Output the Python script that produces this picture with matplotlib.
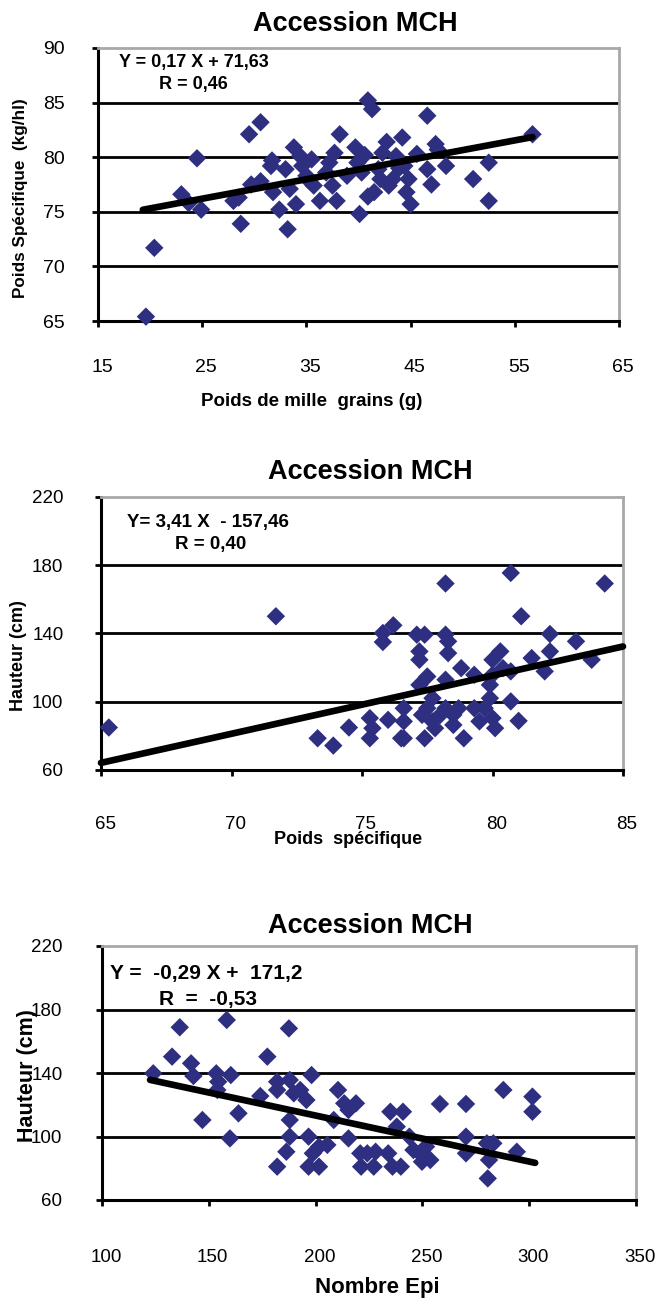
import numpy as np
import matplotlib
matplotlib.use("Agg")
import matplotlib.pyplot as plt
from matplotlib.transforms import ScaledTranslation

plt.rcParams['font.family'] = ['Liberation Sans', 'DejaVu Sans']

# ---------------- data ----------------
# Panel 1: Poids de mille grains (g) vs Poids spécifique (kg/hl)
pmg = [19.6, 20.4, 23.0, 23.7, 24.5, 24.9, 28.0, 28.5, 28.7, 29.5, 30.6, 29.7, 30.6,
       31.7, 31.8, 32.4, 33.2, 33.0, 33.8, 34.0, 34.4, 34.6, 35.5, 35.0, 35.7, 36.3,
       36.9, 37.7, 37.5, 37.9, 38.2, 38.9, 39.7, 39.9, 40.1, 40.3, 40.9, 41.3, 40.9,
       41.5, 42.1, 42.3, 42.7, 42.9, 43.6, 44.2, 44.4, 44.6, 45.0, 44.8, 45.6, 46.6,
       46.6, 47.0, 47.4, 47.6, 48.4, 51.0, 52.5, 52.5, 56.7,
       33.4, 31.6, 35.2, 43.3, 43.9, 37.2, 40.6, 41.9]
ps1 = [65.4, 71.7, 76.6, 75.8, 79.9, 75.2, 76.0, 76.3, 73.9, 82.1, 83.2, 77.5, 77.8,
       79.7, 76.8, 75.2, 73.4, 78.9, 80.9, 75.7, 80.1, 79.2, 79.8, 78.3, 77.4, 76.0,
       78.6, 80.4, 77.4, 76.0, 82.1, 78.3, 80.9, 79.5, 74.8, 78.6, 85.2, 84.4, 76.4,
       76.8, 78.0, 80.4, 81.4, 77.4, 80.1, 81.8, 79.2, 76.8, 75.7, 78.0, 80.3, 83.8,
       78.9, 77.5, 81.2, 80.7, 79.2, 78.0, 79.5, 76.0, 82.1,
       77.1, 79.2, 77.9, 78.0, 79.0, 79.5, 80.2, 78.9]
slope1, intercept1 = 0.178, 71.75
eq1 = ["Y = 0,17 X + 71,63", "R = 0,46"]

# Panel 2: Poids spécifique vs Hauteur (cm)
ps2 = [65.3, 71.7, 73.3, 73.9, 74.5, 75.3, 75.4, 75.3, 75.8, 75.8, 76.2, 76.0, 76.5,
       76.6, 76.6, 76.6, 77.1, 77.4, 77.2, 77.2, 77.2, 77.5, 77.4, 77.3, 77.5, 77.7,
       77.7, 77.8, 78.0, 78.2, 78.2, 78.3, 78.3, 78.2, 78.2, 78.5, 78.5, 78.8, 78.9,
       78.7, 79.3, 79.3, 79.5, 79.7, 79.9, 79.9, 80.0, 80.0, 80.1, 80.0, 80.3, 80.4,
       80.7, 80.7, 80.7, 81.1, 81.0, 81.5, 82.0, 82.2, 82.2, 83.2, 83.8, 84.3]
haut2 = [84.9, 150.1, 78.6, 74.3, 84.9, 90.4, 84.5, 78.6, 135.0, 140.3, 144.8, 89.4,
         78.6, 78.6, 88.5, 96.2, 139.3, 139.3, 129.5, 124.6, 109.9, 114.8, 78.6, 92.3,
         96.2, 102.1, 88.5, 84.5, 92.3, 169.3, 139.3, 135.4, 128.5, 112.9, 96.2, 86.4,
         92.3, 119.7, 78.6, 96.2, 115.8, 96.2, 88.5, 96.2, 102.1, 109.9, 115.8, 124.6,
         84.5, 90.4, 129.5, 119.7, 175.5, 100.2, 117.8, 150.1, 88.8, 125.6, 117.8,
         139.7, 129.5, 135.4, 124.6, 169.3]
slope2, intercept2 = 3.41, -157.46
eq2 = ["Y= 3,41 X  - 157,46", "R = 0,40"]

# Panel 3: Nombre Epi vs Hauteur (cm)
epi = [124.0, 132.8, 136.4, 141.7, 142.8, 147.0, 153.5, 154.4, 154.0, 158.4, 160.3,
       159.9, 163.9, 174.1, 177.4, 182.0, 182.0, 182.0, 187.5, 187.9, 189.8, 187.9,
       187.9, 186.3, 192.8, 195.7, 196.7, 198.1, 196.7, 198.7, 201.6, 201.6, 205.5,
       208.5, 210.5, 213.4, 215.4, 215.4, 218.9, 220.9, 221.3, 224.2, 227.2, 228.1,
       234.0, 235.0, 236.0, 238.0, 239.9, 240.9, 243.9, 245.8, 248.8, 249.8, 251.7,
       253.7, 258.2, 270.4, 270.4, 270.4, 280.2, 281.2, 280.6, 283.2, 287.9, 294.2,
       301.5, 301.5]
haut3 = [139.8, 150.3, 168.8, 146.1, 138.1, 110.4, 139.8, 134.5, 129.3, 173.4, 138.7,
         98.8, 114.6, 125.5, 150.3, 134.5, 129.3, 81.0, 168.1, 135.6, 127.2, 110.4,
         99.9, 90.4, 129.3, 123.0, 99.9, 138.7, 81.0, 89.4, 81.0, 93.6, 94.7, 110.4,
         129.3, 120.9, 98.8, 116.7, 120.9, 89.4, 81.0, 89.4, 81.0, 90.4, 89.4, 115.6,
         81.0, 106.2, 81.0, 115.6, 99.9, 91.5, 89.4, 84.1, 93.6, 85.2, 120.5, 120.5,
         99.9, 89.4, 95.7, 85.2, 73.6, 95.7, 129.3, 90.4, 125.1, 115.6]
slope3, intercept3 = -0.29, 171.2
eq3 = ["Y =  -0,29 X +  171,2", "R  =  -0,53"]

title = "Accession MCH"

# ---------------- figure ----------------
W, H = 659, 1298
fig = plt.figure(figsize=(W / 100, H / 100), dpi=100)
PT = 100 / 72.0  # px per point

marker_col = '#2E2F80'


def px_rect(l, t, r, b):
    return [l / W, 1 - b / H, (r - l) / W, (b - t) / H]


def fx(x):
    return x / W


def fy(y):
    return 1 - y / H


def draw_panel(rect, x, y, slope, intercept, line_x, xticks, yticks,
               xpad, ypad, tsize):
    ax = fig.add_axes(rect)
    ax.set_xlim(xticks[0], xticks[-1])
    ax.set_ylim(yticks[0], yticks[-1])
    ax.set_xticks(xticks)
    ax.set_yticks(yticks)
    for yv in yticks[1:-1]:
        ax.axhline(yv, color='black', lw=2.0, zorder=1)
    for s in ['left', 'bottom']:
        ax.spines[s].set_color('black')
        ax.spines[s].set_linewidth(2.2)
    for s in ['top', 'right']:
        ax.spines[s].set_color('#A8A8A8')
        ax.spines[s].set_linewidth(2.0)
    ax.tick_params(axis='x', direction='out', length=4, width=2, pad=xpad / PT,
                   labelsize=tsize)
    ax.tick_params(axis='y', direction='out', length=4, width=2, pad=ypad / PT,
                   labelsize=tsize)
    ax.scatter(x, y, marker='D', s=88, color=marker_col, edgecolors='none',
               zorder=3, clip_on=False)
    lx = np.array(line_x)
    ax.plot(lx, slope * lx + intercept, color='black', lw=4.8,
            solid_capstyle='round', zorder=4, clip_on=False)
    # x tick labels sit slightly right of their ticks in the reference
    shift = ScaledTranslation(4 / 100, 0, fig.dpi_scale_trans)
    for lab in ax.get_xticklabels():
        lab.set_transform(lab.get_transform() + shift)
    return ax


# Panel 1
ax1 = draw_panel(px_rect(98, 48, 619, 321), pmg, ps1, slope1, intercept1,
                 [min(pmg) - 0.3, max(pmg)],
                 [15, 25, 35, 45, 55, 65], [65, 70, 75, 80, 85, 90],
                 xpad=32, ypad=28, tsize=14)
fig.text(fx(355), fy(24), title, ha='center', va='center', fontsize=19.5,
         fontweight='bold')
fig.text(fx(119), fy(63), eq1[0], ha='left', va='center', fontsize=13,
         fontweight='bold')
fig.text(fx(159), fy(84), eq1[1], ha='left', va='center', fontsize=13,
         fontweight='bold')
fig.text(fx(21), fy(198), "Poids Spécifique  (kg/hl)", rotation=90,
         ha='center', va='center', fontsize=12.3, fontweight='bold')
fig.text(fx(312), fy(402), "Poids de mille  grains (g)", ha='center',
         va='center', fontsize=13.5, fontweight='bold')

# Panel 2
ax2 = draw_panel(px_rect(101, 497, 623, 770), ps2, haut2, slope2, intercept2,
                 [65, 85],
                 [65, 70, 75, 80, 85], [60, 100, 140, 180, 220],
                 xpad=40, ypad=32, tsize=13.5)
fig.text(fx(370), fy(472), title, ha='center', va='center', fontsize=19.5,
         fontweight='bold')
fig.text(fx(127), fy(523), eq2[0], ha='left', va='center', fontsize=13.5,
         fontweight='bold')
fig.text(fx(175), fy(545), eq2[1], ha='left', va='center', fontsize=13.5,
         fontweight='bold')
fig.text(fx(19), fy(656), "Hauteur (cm)", rotation=90, ha='center',
         va='center', fontsize=13, fontweight='bold')
fig.text(fx(348), fy(840), "Poids  spécifique", ha='center', va='center',
         fontsize=13, fontweight='bold')

# Panel 3
ax3 = draw_panel(px_rect(102, 946, 636, 1200), epi, haut3, slope3, intercept3,
                 [min(epi) - 1.5, max(epi) + 1.3],
                 [100, 150, 200, 250, 300, 350], [60, 100, 140, 180, 220],
                 xpad=43, ypad=34, tsize=13.5)
fig.text(fx(370), fy(926), title, ha='center', va='center', fontsize=19.5,
         fontweight='bold', zorder=5,
         bbox=dict(facecolor='white', edgecolor='none', pad=4))
fig.text(fx(110), fy(974), eq3[0], ha='left', va='center', fontsize=15,
         fontweight='bold')
fig.text(fx(159), fy(999), eq3[1], ha='left', va='center', fontsize=15,
         fontweight='bold')
fig.text(fx(27), fy(1076), "Hauteur (cm)", rotation=90, ha='center',
         va='center', fontsize=15.5, fontweight='bold')
fig.text(fx(377), fy(1287), "Nombre Epi", ha='center', va='center',
         fontsize=16, fontweight='bold')

fig.savefig("out.png", dpi=100, facecolor='white')
